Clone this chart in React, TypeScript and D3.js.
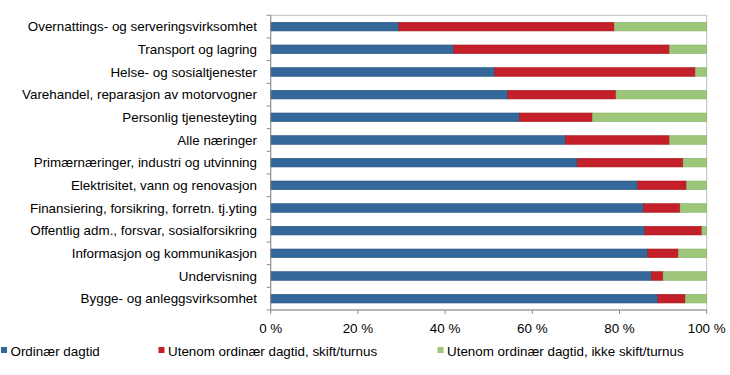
import React from "react";
import * as d3 from "d3";

const categories = [
  "Overnattings- og serveringsvirksomhet",
  "Transport og lagring",
  "Helse- og sosialtjenester",
  "Varehandel, reparasjon av motorvogner",
  "Personlig tjenesteyting",
  "Alle næringer",
  "Primærnæringer, industri og utvinning",
  "Elektrisitet, vann og renovasjon",
  "Finansiering, forsikring, forretn. tj.yting",
  "Offentlig adm., forsvar, sosialforsikring",
  "Informasjon og kommunikasjon",
  "Undervisning",
  "Bygge- og anleggsvirksomhet",
];
const ordinaer = [29.4, 42.0, 51.4, 54.4, 57.1, 67.6, 70.3, 84.2, 85.5, 85.8, 86.5, 87.3, 88.8];
const skift = [49.4, 49.5, 46.0, 24.8, 16.7, 23.9, 24.3, 11.2, 8.4, 13.1, 7.0, 2.7, 6.3];
const ikkeSkift = ordinaer.map((v, i) => +(100 - v - skift[i]).toFixed(1));
const seriesNames = [
  "Ordinær dagtid",
  "Utenom ordinær dagtid, skift/turnus",
  "Utenom ordinær dagtid, ikke skift/turnus",
];
const colors = ["#35689a", "#c3202a", "#9dc67a"];
const strokes = ["#24507e", "#a5161e", "#8ab866"];
const ticks = [0, 20, 40, 60, 80, 100];

const W = 730, H = 375;
const left = 270.7, right = 706.7, top = 15.3, bottom = 310;

export default function App() {
  const x = d3.scaleLinear().domain([0, 100]).range([left, right]);
  const y = d3.scaleBand().domain(categories).range([top, bottom]).paddingInner(0.62).paddingOuter(0.31);
  const rows = categories.map((c, i) => ({ c, vals: [ordinaer[i], skift[i], ikkeSkift[i]] }));
  const font = "'Liberation Sans', Arial, sans-serif";
  const band = (bottom - top) / categories.length;
  const legendX = [1, 158.5, 437.5];
  return (
    <svg width={W} height={H} style={{ position: "absolute", left: 0, top: 0, background: "#fff" }} fontFamily={font}>
      <rect x={left} y={top} width={right - left} height={bottom - top} fill="none" stroke="#bfbfbf" strokeWidth={1} />
      {rows.map((r) => {
        let acc = 0;
        return (
          <g key={r.c}>
            {r.vals.map((v, k) => {
              const x0 = x(acc);
              acc += v;
              const x1 = x(Math.min(acc, 100));
              return (
                <rect key={k} x={x0} y={y(r.c)!} width={Math.max(0, x1 - x0)} height={y.bandwidth()}
                  fill={colors[k]} stroke={strokes[k]} strokeWidth={0.6} />
              );
            })}
            <text x={257} y={y(r.c)! + y.bandwidth() / 2} dy="0.35em" textAnchor="end" fontSize={13.4} fill="#000">
              {r.c}
            </text>
          </g>
        );
      })}
      <line x1={left} x2={left} y1={top} y2={bottom} stroke="#8c8c8c" />
      {d3.range(categories.length + 1).map((i) => (
        <line key={i} x1={left - 4} x2={left} y1={top + i * band} y2={top + i * band} stroke="#8c8c8c" />
      ))}
      <line x1={left} x2={right} y1={bottom} y2={bottom} stroke="#8c8c8c" />
      {ticks.map((t) => (
        <g key={t}>
          <line x1={x(t)} x2={x(t)} y1={bottom} y2={bottom + 4} stroke="#8c8c8c" />
          <text x={x(t)} y={bottom + 18} dy="0.35em" textAnchor="middle" fontSize={13.4} fill="#000">{`${t} %`}</text>
        </g>
      ))}
      {seriesNames.map((s, k) => (
        <g key={s}>
          <rect x={legendX[k]} y={347} width={6} height={6} fill={colors[k]} />
          <text x={legendX[k] + 9.5} y={351} dy="0.35em" fontSize={13.4} fill="#000">{s}</text>
        </g>
      ))}
    </svg>
  );
}
